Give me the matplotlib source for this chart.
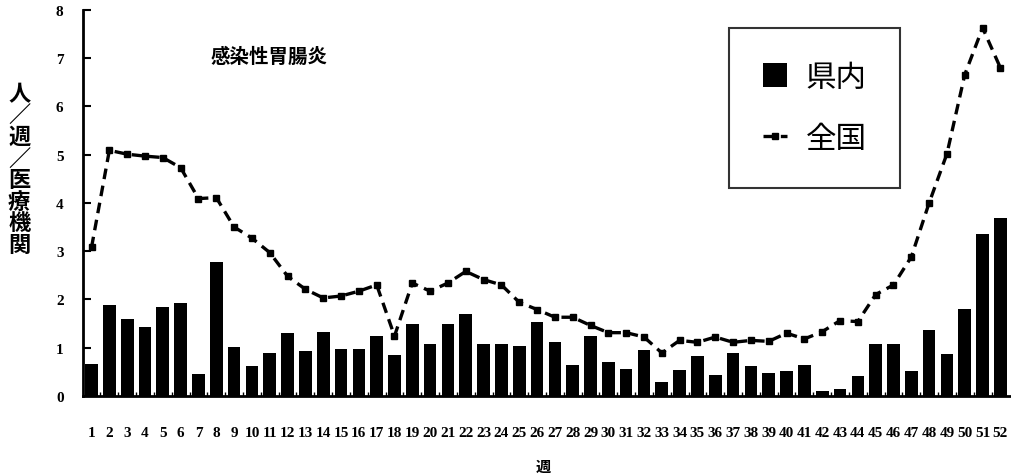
import matplotlib
matplotlib.use("Agg")
import matplotlib.pyplot as plt
import numpy as np

plt.rcParams['font.family'] = ['Noto Sans CJK JP', 'DejaVu Sans']

# 週 (1-52)
weeks = list(range(1, 53))

# 県内: 定点当たり患者数
kennai = [0.66, 1.89, 1.60, 1.43, 1.84, 1.92, 0.46, 2.77, 1.01, 0.62,
          0.89, 1.30, 0.94, 1.33, 0.97, 0.97, 1.25, 0.84, 1.49, 1.08,
          1.49, 1.70, 1.08, 1.08, 1.03, 1.53, 1.11, 0.63, 1.24, 0.71,
          0.55, 0.95, 0.28, 0.54, 0.82, 0.44, 0.89, 0.61, 0.48, 0.52,
          0.63, 0.11, 0.15, 0.42, 1.07, 1.07, 0.51, 1.36, 0.87, 1.80,
          3.36, 3.69]

# 全国: 定点当たり患者数
zenkoku = [3.08, 5.09, 5.01, 4.97, 4.94, 4.73, 4.09, 4.11, 3.50, 3.27,
           2.97, 2.48, 2.21, 2.03, 2.07, 2.17, 2.30, 1.24, 2.34, 2.17,
           2.34, 2.58, 2.41, 2.30, 1.94, 1.79, 1.63, 1.63, 1.46, 1.31,
           1.31, 1.22, 0.89, 1.15, 1.11, 1.22, 1.11, 1.15, 1.13, 1.30,
           1.18, 1.33, 1.56, 1.54, 2.10, 2.30, 2.88, 4.00, 5.02, 6.66,
           7.63, 6.80]

yticks = list(range(0, 9))

fig = plt.figure(figsize=(10.12, 4.77), dpi=100)
ax = fig.add_axes([0.082, 0.168, 0.918, 0.809])

bars = ax.bar(weeks, kennai, width=0.71, color='black', label='県内', zorder=2)
line, = ax.plot(weeks, zenkoku, color='black', linestyle=(0, (3.2, 2)), linewidth=2.4,
                marker='s', markersize=4, label='全国', zorder=3)

ax.set_xlim(0.52, 52.65)
ax.set_ylim(0, 8)

for s in ['top', 'right']:
    ax.spines[s].set_visible(False)
ax.spines['left'].set_linewidth(2)
ax.spines['bottom'].set_linewidth(2)

ax.set_yticks(yticks)
ax.set_yticklabels([str(v) for v in yticks], family='Liberation Serif',
                   fontweight='bold', fontsize=11)
ax.tick_params(axis='y', direction='in', length=6, width=1.5, pad=14)

ax.set_xticks(weeks)
ax.set_xticklabels([str(w) for w in weeks], family='Liberation Serif',
                   fontweight='bold', fontsize=11)
ax.tick_params(axis='x', which='major', length=0, pad=22)
ax.set_xticks(np.arange(1.5, 52, 1), minor=True)
ax.tick_params(axis='x', which='minor', direction='in', length=3, width=1)

fig.text(211 / 1012, 1 - 57 / 477, '感染性胃腸炎', fontsize=14,
         fontweight='bold', ha='left', va='center')

# y軸ラベル（縦書き）
fig.text(0.019, 0.644, '\n'.join('人／週／医療機関'), fontsize=16,
         fontweight='bold', ha='center', va='center', linespacing=0.92)

fig.text(0.537, 0.005, '週', fontsize=11, fontweight='bold', ha='center', va='bottom')

leg = fig.legend([bars, line], ['県内', '全国'], loc='upper left',
                 bbox_to_anchor=(729 / 1012, 1 - 29 / 477), fontsize=22,
                 frameon=True, fancybox=False, edgecolor='black',
                 handlelength=0.8, handleheight=0.8, handletextpad=0.6,
                 borderpad=1.1, labelspacing=1.0, borderaxespad=0)
leg.get_frame().set_linewidth(1.5)

fig.savefig('out.png', dpi=100)
